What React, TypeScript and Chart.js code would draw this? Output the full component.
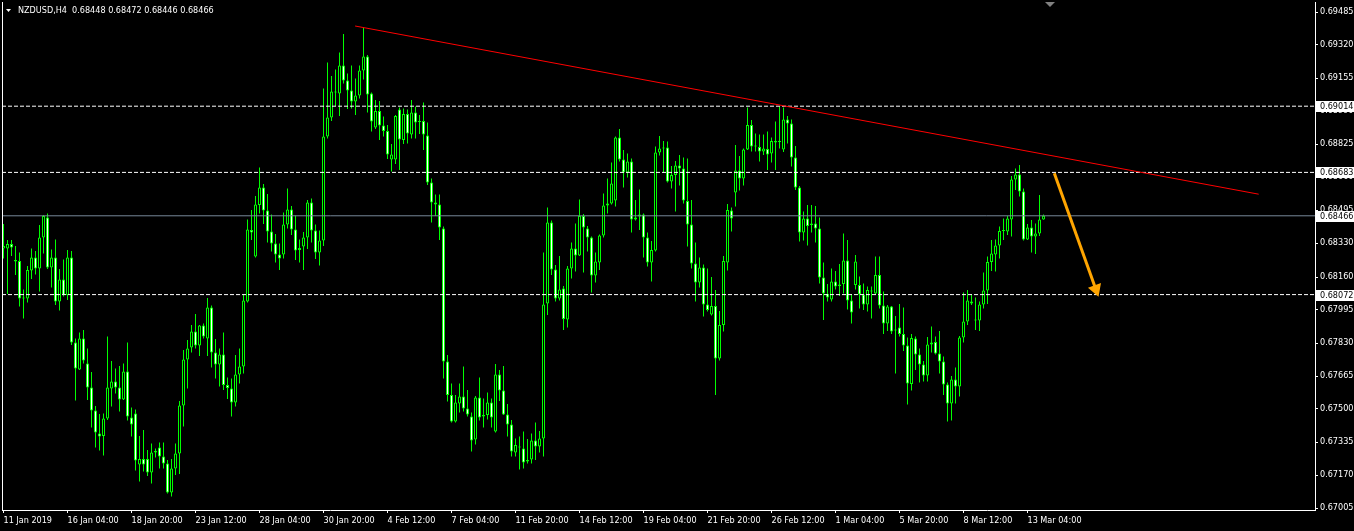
import React, { useEffect, useRef } from 'react';
import { Chart, registerables } from 'chart.js';

Chart.register(...registerables);

const chartSymbol = 'NZDUSD,H4';
const headerQuote = '0.68448 0.68472 0.68446 0.68466';

const xTickIndex = [0, 16, 32, 48, 64, 80, 96, 112, 128, 144, 160, 176, 192, 208, 224, 240, 256];
const xTickLabels = [
  '11 Jan 2019', '16 Jan 04:00', '18 Jan 20:00', '23 Jan 12:00', '28 Jan 04:00', '30 Jan 20:00',
  '4 Feb 12:00', '7 Feb 04:00', '11 Feb 20:00', '14 Feb 12:00', '19 Feb 04:00', '21 Feb 20:00',
  '26 Feb 12:00', '1 Mar 04:00', '5 Mar 20:00', '8 Mar 12:00', '13 Mar 04:00',
];
const yTickValues = [
  0.69485, 0.6932, 0.69155, 0.6899, 0.68825, 0.6866, 0.68495, 0.6833,
  0.6816, 0.67995, 0.6783, 0.67665, 0.675, 0.67335, 0.6717, 0.67005,
];

const opens = [
  0.68303,0.68302,0.68325,0.68245,0.68240,0.68052,0.68052,0.68192,0.68258,0.68202,0.68358,0.68458,0.68207,0.68258,0.68037,0.68148,0.68070,0.68258,0.67832,0.67698,
  0.67853,0.67728,0.67608,0.67492,0.67378,0.67365,0.67453,0.67603,0.67637,0.67608,0.67548,0.67687,0.67458,0.67478,0.67223,0.67250,0.67250,0.67182,0.67283,0.67308,
  0.67263,0.67228,0.67082,0.67203,0.67278,0.67517,0.67748,0.67808,0.67887,0.67818,0.67918,0.67853,0.68008,0.67782,0.67723,0.67773,0.67620,0.67602,0.67533,0.67673,
  0.67712,0.68037,0.68395,0.68262,0.68520,0.68608,0.68492,0.68387,0.68328,0.68273,0.68273,0.68423,0.68498,0.68398,0.68295,0.68312,0.68358,0.68533,0.68392,0.68283,
  0.68342,0.68862,0.68957,0.69087,0.69078,0.69217,0.69142,0.69092,0.69037,0.69068,0.69193,0.69263,0.69078,0.68907,0.68990,0.68917,0.68890,0.68748,0.68748,0.68998,
  0.68845,0.68975,0.68873,0.68983,0.68935,0.68940,0.68868,0.68633,0.68532,0.68523,0.68403,0.67737,0.67570,0.67437,0.67528,0.67562,0.67503,0.67462,0.67348,0.67558,
  0.67462,0.67470,0.67533,0.67387,0.67673,0.67592,0.67473,0.67423,0.67282,0.67312,0.67303,0.67237,0.67248,0.67342,0.67312,0.67353,0.68028,0.68433,0.68198,0.68053,
  0.68103,0.67948,0.68203,0.68303,0.68268,0.68465,0.68403,0.68358,0.68167,0.68232,0.68368,0.68518,0.68528,0.68542,0.68858,0.68748,0.68682,0.68737,0.68448,0.68462,
  0.68473,0.68358,0.68232,0.68292,0.68783,0.68803,0.68808,0.68637,0.68670,0.68718,0.68703,0.68540,0.68423,0.68228,0.68132,0.68208,0.68023,0.67973,0.68015,0.67753,
  0.67920,0.68233,0.68492,0.68582,0.68693,0.68653,0.68798,0.68920,0.68812,0.68810,0.68787,0.68800,0.68777,0.68840,0.68835,0.68798,0.68948,0.68928,0.68758,0.68608,
  0.68382,0.68453,0.68420,0.68428,0.68403,0.68158,0.68075,0.68048,0.68137,0.68115,0.68125,0.68242,0.68042,0.68120,0.68120,0.68073,0.68023,0.68087,0.68078,0.68170,
  0.68017,0.67928,0.68012,0.67892,0.67908,0.67875,0.67818,0.67625,0.67853,0.67773,0.67723,0.67667,0.67823,0.67835,0.67778,0.67737,0.67623,0.67528,0.67648,0.67612,
  0.67857,0.67937,0.68038,0.67945,0.67942,0.68023,0.68092,0.68235,0.68273,0.68317,0.68390,0.68387,0.68448,0.68648,0.68673,0.68587,0.68348,0.68408,0.68362,0.68378,
  0.68448,
];

const highs = [
  0.68425,0.68345,0.68345,0.68315,0.68282,0.68098,0.68215,0.68303,0.68290,0.68420,0.68470,0.68478,0.68298,0.68348,0.68200,0.68248,0.68295,0.68290,0.67853,0.67883,
  0.67895,0.67803,0.67685,0.67515,0.67475,0.67478,0.67862,0.67740,0.67703,0.67715,0.67728,0.67833,0.67508,0.67498,0.67365,0.67395,0.67295,0.67328,0.67303,0.67333,
  0.67333,0.67245,0.67250,0.67328,0.67540,0.67795,0.67845,0.67920,0.67975,0.67920,0.67928,0.68055,0.68017,0.67850,0.67803,0.67883,0.67658,0.67653,0.67770,0.67803,
  0.68070,0.68448,0.68495,0.68565,0.68708,0.68625,0.68575,0.68473,0.68375,0.68328,0.68483,0.68603,0.68515,0.68467,0.68348,0.68385,0.68545,0.68553,0.68423,0.68392,
  0.69103,0.69232,0.69165,0.69198,0.69283,0.69375,0.69178,0.69218,0.69153,0.69218,0.69408,0.69270,0.69082,0.69045,0.69040,0.68962,0.68920,0.68825,0.68970,0.69008,
  0.69003,0.68998,0.69045,0.69012,0.68970,0.69033,0.68932,0.68653,0.68573,0.68573,0.68412,0.67770,0.67628,0.67570,0.67628,0.67712,0.67595,0.67482,0.67565,0.67657,
  0.67553,0.67582,0.67553,0.67725,0.67695,0.67715,0.67525,0.67445,0.67353,0.67362,0.67387,0.67350,0.67378,0.67433,0.67390,0.68283,0.68508,0.68442,0.68220,0.68265,
  0.68115,0.68215,0.68333,0.68428,0.68548,0.68475,0.68415,0.68362,0.68283,0.68373,0.68578,0.68653,0.68732,0.68862,0.68900,0.68795,0.68778,0.68753,0.68545,0.68598,
  0.68478,0.68382,0.68340,0.68812,0.68865,0.68840,0.68837,0.68715,0.68740,0.68770,0.68757,0.68753,0.68545,0.68332,0.68258,0.68223,0.68203,0.68160,0.68095,0.67990,
  0.68265,0.68525,0.68507,0.68820,0.68765,0.68803,0.69007,0.68945,0.68878,0.68873,0.68873,0.68887,0.68858,0.68937,0.69012,0.69007,0.68965,0.68948,0.68815,0.68615,
  0.68487,0.68520,0.68520,0.68515,0.68457,0.68233,0.68125,0.68203,0.68190,0.68225,0.68378,0.68345,0.68073,0.68270,0.68162,0.68128,0.68112,0.68112,0.68262,0.68262,
  0.68087,0.68020,0.68015,0.67965,0.68025,0.68007,0.67857,0.67875,0.67862,0.67803,0.67740,0.67860,0.67912,0.67862,0.67890,0.67762,0.67632,0.67665,0.67708,0.67865,
  0.68083,0.68095,0.68070,0.68058,0.68037,0.68183,0.68262,0.68345,0.68348,0.68412,0.68453,0.68465,0.68665,0.68703,0.68720,0.68603,0.68425,0.68445,0.68428,0.68570,
  0.68472,
];

const lows = [
  0.68253,0.68075,0.68265,0.68170,0.68012,0.67952,0.68032,0.68150,0.68172,0.68087,0.68278,0.68200,0.68107,0.68020,0.67992,0.68062,0.68045,0.67820,0.67542,0.67695,
  0.67728,0.67545,0.67407,0.67308,0.67292,0.67267,0.67445,0.67512,0.67578,0.67487,0.67545,0.67442,0.67362,0.67192,0.67137,0.67187,0.67165,0.67128,0.67257,0.67203,
  0.67203,0.67078,0.67062,0.67170,0.67175,0.67412,0.67602,0.67782,0.67803,0.67765,0.67853,0.67765,0.67708,0.67653,0.67612,0.67595,0.67550,0.67462,0.67512,0.67628,
  0.67678,0.68032,0.68345,0.68258,0.68478,0.68425,0.68332,0.68287,0.68233,0.68195,0.68252,0.68403,0.68370,0.68245,0.68232,0.68195,0.68300,0.68332,0.68250,0.68217,
  0.68315,0.68853,0.68940,0.69015,0.68965,0.69128,0.69000,0.69003,0.68970,0.69053,0.69148,0.68982,0.68887,0.68900,0.68845,0.68862,0.68750,0.68687,0.68725,0.68695,
  0.68825,0.68828,0.68853,0.68852,0.68875,0.68795,0.68620,0.68432,0.68465,0.68345,0.67653,0.67537,0.67432,0.67432,0.67483,0.67487,0.67462,0.67287,0.67323,0.67442,
  0.67407,0.67448,0.67407,0.67383,0.67540,0.67470,0.67362,0.67262,0.67262,0.67198,0.67203,0.67228,0.67228,0.67245,0.67282,0.67262,0.67970,0.68170,0.68037,0.68042,
  0.67895,0.67907,0.68153,0.68187,0.68265,0.68182,0.68287,0.68082,0.68132,0.68195,0.68358,0.68478,0.68522,0.68512,0.68737,0.68608,0.68657,0.68382,0.68442,0.68395,
  0.68257,0.68212,0.68137,0.68287,0.68767,0.68683,0.68632,0.68603,0.68487,0.68617,0.68528,0.68312,0.68203,0.68037,0.68107,0.67962,0.67987,0.67967,0.67570,0.67742,
  0.67887,0.68192,0.68387,0.68512,0.68593,0.68617,0.68795,0.68787,0.68787,0.68737,0.68770,0.68695,0.68732,0.68695,0.68803,0.68785,0.68828,0.68712,0.68595,0.68337,
  0.68342,0.68317,0.68382,0.68332,0.68128,0.67945,0.68037,0.68037,0.68098,0.68065,0.68078,0.67998,0.67928,0.68098,0.68003,0.67995,0.67987,0.67953,0.68070,0.68003,
  0.67875,0.67890,0.67875,0.67678,0.67862,0.67790,0.67523,0.67592,0.67695,0.67632,0.67637,0.67637,0.67782,0.67773,0.67678,0.67570,0.67437,0.67442,0.67528,0.67562,
  0.67832,0.67920,0.68020,0.67895,0.67890,0.68003,0.68025,0.68190,0.68187,0.68252,0.68345,0.68370,0.68362,0.68595,0.68562,0.68342,0.68345,0.68282,0.68275,0.68365,
  0.68446,
];

const closes = [
  0.68315,0.68325,0.68308,0.68237,0.68052,0.68057,0.68195,0.68258,0.68202,0.68358,0.68465,0.68207,0.68258,0.68037,0.68148,0.68070,0.68258,0.67832,0.67702,0.67853,
  0.67742,0.67608,0.67492,0.67383,0.67362,0.67453,0.67608,0.67637,0.67608,0.67548,0.67687,0.67462,0.67423,0.67242,0.67250,0.67223,0.67182,0.67283,0.67290,0.67262,
  0.67227,0.67082,0.67203,0.67278,0.67517,0.67748,0.67803,0.67887,0.67818,0.67918,0.67862,0.68008,0.67782,0.67723,0.67773,0.67620,0.67605,0.67533,0.67673,0.67712,
  0.68043,0.68398,0.68382,0.68523,0.68608,0.68492,0.68387,0.68328,0.68273,0.68252,0.68423,0.68498,0.68398,0.68292,0.68305,0.68358,0.68533,0.68392,0.68283,0.68342,
  0.68862,0.68957,0.69087,0.69082,0.69217,0.69142,0.69092,0.69037,0.69068,0.69193,0.69263,0.69073,0.68937,0.68990,0.68917,0.68890,0.68773,0.68773,0.68965,0.68848,
  0.68975,0.68878,0.68983,0.68932,0.68938,0.68873,0.68632,0.68532,0.68523,0.68408,0.67737,0.67570,0.67437,0.67533,0.67562,0.67503,0.67473,0.67342,0.67558,0.67457,
  0.67470,0.67533,0.67457,0.67673,0.67592,0.67473,0.67423,0.67287,0.67320,0.67307,0.67232,0.67245,0.67342,0.67312,0.67353,0.68023,0.68433,0.68198,0.68053,0.68098,
  0.67950,0.68203,0.68303,0.68268,0.68465,0.68407,0.68357,0.68167,0.68237,0.68368,0.68518,0.68527,0.68628,0.68858,0.68748,0.68682,0.68737,0.68448,0.68457,0.68472,
  0.68358,0.68232,0.68295,0.68783,0.68803,0.68808,0.68637,0.68670,0.68718,0.68703,0.68543,0.68423,0.68228,0.68132,0.68208,0.68023,0.67995,0.68015,0.67753,0.67920,
  0.68240,0.68495,0.68453,0.68693,0.68653,0.68798,0.68920,0.68812,0.68813,0.68787,0.68803,0.68773,0.68840,0.68833,0.68838,0.68948,0.68928,0.68758,0.68608,0.68382,
  0.68453,0.68415,0.68428,0.68403,0.68158,0.68078,0.68057,0.68137,0.68112,0.68122,0.68242,0.68042,0.67983,0.68237,0.68073,0.68023,0.68095,0.68092,0.68170,0.68017,
  0.67928,0.68012,0.67887,0.67898,0.67875,0.67818,0.67628,0.67855,0.67773,0.67723,0.67667,0.67823,0.67832,0.67778,0.67737,0.67623,0.67528,0.67648,0.67612,0.67857,
  0.67937,0.68042,0.68027,0.67942,0.68023,0.68092,0.68235,0.68278,0.68317,0.68390,0.68393,0.68453,0.68648,0.68673,0.68587,0.68348,0.68408,0.68362,0.68378,0.68448,
  0.68466,
];

const levelPrices = [0.69014, 0.68683, 0.68072];
const bidPrice = 0.68466;
const labelledPrices = [0.69014, 0.68683, 0.68466, 0.68072];
const trendIndex = [87.9, 313.8];
const trendPrice = [0.69415, 0.68574];
const arrowIndex = [262.7, 273.08];
const arrowPrice = [0.68679, 0.68099];
const shiftMarkerIndex = 261.6;

const X_MIN = -0.375;
const X_MAX = 327.875;
const Y_MIN = 0.66995;
const Y_MAX = 0.69535;
const FONT_FAMILY = '"DejaVu Sans Condensed", "DejaVu Sans", sans-serif';
const LIME = '#00ff00';

const overlayPlugin = {
  id: 'mtOverlay',
  afterDraw(chart: any) {
    const { ctx, chartArea, scales } = chart;
    const xs = scales.x;
    const ys = scales.y;
    ctx.save();
    // left frame line
    ctx.fillStyle = '#ffffff';
    ctx.fillRect(2, chartArea.top, 1, chartArea.bottom - chartArea.top + 1);
    // price label boxes
    ctx.font = `9px ${FONT_FAMILY}`;
    ctx.textBaseline = 'middle';
    ctx.textAlign = 'left';
    labelledPrices.forEach((p) => {
      const y = Math.round(ys.getPixelForValue(p));
      ctx.fillStyle = '#ffffff';
      ctx.fillRect(chartArea.right + 1, y - 5, 40, 11);
      ctx.fillStyle = '#000000';
      ctx.fillText(p.toFixed(5), chartArea.right + 5, y + 0.5);
    });
    // title
    ctx.fillStyle = '#ffffff';
    ctx.beginPath();
    ctx.moveTo(6, 9);
    ctx.lineTo(11, 9);
    ctx.lineTo(8.5, 12);
    ctx.closePath();
    ctx.fill();
    ctx.fillText(`${chartSymbol}  ${headerQuote}`, 18, 11);
    // chart shift marker
    const sx = Math.round(xs.getPixelForValue(shiftMarkerIndex));
    ctx.fillStyle = '#808080';
    ctx.beginPath();
    ctx.moveTo(sx - 5, 2);
    ctx.lineTo(sx + 5, 2);
    ctx.lineTo(sx, 7);
    ctx.closePath();
    ctx.fill();
    ctx.restore();
  },
};

export default function App() {
  const canvasRef = useRef<HTMLCanvasElement | null>(null);

  useEffect(() => {
    const canvas = canvasRef.current;
    if (!canvas) return;

    const idx = opens.map((_, i) => i);
    const wickData = idx.map((i) => ({ x: i, y: [lows[i], highs[i]] }));
    const bodyData = idx.map((i) => ({ x: i, y: [opens[i], closes[i]] }));
    const bodyFill = idx.map((i) => (closes[i] >= opens[i] ? '#000000' : '#ffffff'));

    const levelSets = levelPrices.map((p) => ({
      type: 'line' as const,
      data: [{ x: X_MIN, y: p }, { x: X_MAX, y: p }],
      borderColor: '#ffffff',
      borderWidth: 1,
      borderDash: [4, 2],
      pointRadius: 0,
      order: 3,
    }));

    const chart = new Chart(canvas, {
      type: 'bar',
      data: {
        datasets: [
          {
            type: 'bar',
            data: wickData as any,
            backgroundColor: LIME,
            borderWidth: 0,
            barThickness: 1,
            grouped: false,
            inflateAmount: 0,
            minBarLength: 1,
            order: 6,
          },
          {
            type: 'bar',
            data: bodyData as any,
            backgroundColor: bodyFill,
            borderColor: LIME,
            borderWidth: 1,
            borderSkipped: false,
            barThickness: 3,
            grouped: false,
            inflateAmount: 0,
            minBarLength: 1,
            order: 5,
          },
          ...levelSets,
          {
            type: 'line',
            data: [{ x: X_MIN, y: bidPrice }, { x: X_MAX, y: bidPrice }],
            borderColor: '#778899',
            borderWidth: 1,
            pointRadius: 0,
            order: 2,
          },
          {
            type: 'line',
            data: trendIndex.map((x, i) => ({ x, y: trendPrice[i] })),
            borderColor: '#ff0000',
            borderWidth: 1,
            pointRadius: 0,
            order: 1,
          },
          {
            type: 'line',
            data: arrowIndex.map((x, i) => ({ x, y: arrowPrice[i] })),
            borderColor: '#ffa500',
            borderWidth: 3,
            pointRadius: [0, 8],
            pointStyle: 'triangle',
            pointRotation: [0, 160.3],
            pointBackgroundColor: '#ffa500',
            pointBorderColor: '#ffa500',
            pointBorderWidth: 0,
            order: 0,
          },
        ] as any,
      },
      options: {
        animation: false,
        responsive: false,
        maintainAspectRatio: false,
        events: [],
        layout: { autoPadding: false, padding: { left: 2, top: 2, right: 0, bottom: 0 } },
        plugins: { legend: { display: false }, tooltip: { enabled: false }, title: { display: false } },
        scales: {
          x: {
            type: 'linear',
            min: X_MIN,
            max: X_MAX,
            offset: false,
            bounds: 'data',
            afterBuildTicks: (s: any) => {
              s.ticks = xTickIndex.map((v) => ({ value: v }));
            },
            afterFit: (s: any) => {
              s.height = 21;
              s.paddingLeft = 0;
              s.paddingRight = 0;
            },
            ticks: {
              color: '#ffffff',
              font: { family: FONT_FAMILY, size: 9 },
              align: 'start',
              maxRotation: 0,
              minRotation: 0,
              autoSkip: false,
              padding: 2,
              callback: (_v: any, i: number) => xTickLabels[i],
            },
            grid: { drawOnChartArea: false, color: '#ffffff', tickColor: '#ffffff', tickLength: 3, offset: false },
            border: { color: '#ffffff', width: 1 },
          },
          y: {
            type: 'linear',
            position: 'right',
            min: Y_MIN,
            max: Y_MAX,
            bounds: 'data',
            afterBuildTicks: (s: any) => {
              s.ticks = yTickValues.map((v) => ({ value: v }));
            },
            afterFit: (s: any) => {
              s.width = 39;
              s.paddingTop = 0;
              s.paddingBottom = 0;
            },
            ticks: {
              color: '#ffffff',
              font: { family: FONT_FAMILY, size: 9 },
              padding: 2,
              autoSkip: false,
              callback: (v: any) => Number(v).toFixed(5),
            },
            grid: { drawOnChartArea: false, color: '#ffffff', tickColor: '#ffffff', tickLength: 3 },
            border: { color: '#ffffff', width: 1 },
          },
        },
      } as any,
      plugins: [overlayPlugin],
    });

    return () => chart.destroy();
  }, []);

  return (
    <div style={{ position: 'fixed', left: 0, top: 0, width: 1354, height: 531, background: '#000000' }}>
      <canvas ref={canvasRef} width={1354} height={531} style={{ display: 'block', width: 1354, height: 531 }} />
    </div>
  );
}
